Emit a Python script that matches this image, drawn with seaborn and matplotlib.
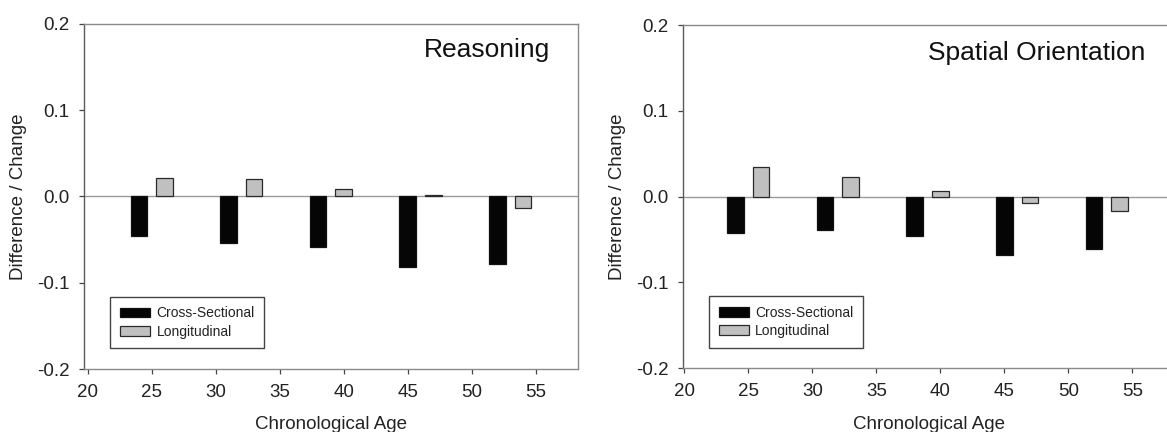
import matplotlib
matplotlib.use("Agg")
import matplotlib.pyplot as plt
from matplotlib.patches import Patch
import seaborn as sns
import pandas as pd

# ---- data ----
cs_age = [24, 31, 38, 45, 52]          # cross-sectional bar positions (age)
long_age = [26, 33, 40, 47, 54]        # longitudinal bar positions (age)
reasoning_cs = [-0.046, -0.054, -0.058, -0.082, -0.078]
reasoning_long = [0.022, 0.020, 0.009, 0.002, -0.013]
spatial_cs = [-0.042, -0.039, -0.046, -0.068, -0.061]
spatial_long = [0.034, 0.023, 0.007, -0.007, -0.017]
panel_titles = ["Reasoning", "Spatial Orientation"]
series_labels = ["Cross-Sectional", "Longitudinal"]
x_ticks = [20, 25, 30, 35, 40, 45, 50, 55]
y_ticks = [-0.2, -0.1, 0.0, 0.1, 0.2]
x_label = "Chronological Age"
y_label = "Difference / Change"

sns.set_theme(style="white")
plt.rcParams["font.family"] = ["Liberation Sans", "DejaVu Sans"]
plt.rcParams["axes.unicode_minus"] = False

W, H = 1167, 432
fig = plt.figure(figsize=(W / 100, H / 100), dpi=100)

# axes geometry in pixels: (left, top, right, bottom)
geoms = [(84.3, 24.0, 577.7, 369.0), (683.3, 25.0, 1174.3, 368.3)]
xlims = [(19.73, 58.28), (19.92, 58.28)]
title_pos = [(0.944, 0.9035), (0.942, 0.898)]

panels = [(reasoning_cs, reasoning_long), (spatial_cs, spatial_long)]
bar_w = 1.3 / 7.0

for i, ((cs, lg), (l, t, r, b)) in enumerate(zip(panels, geoms)):
    ax = fig.add_axes([l / W, (H - b) / H, (r - l) / W, (b - t) / H])
    df_cs = pd.DataFrame({"age": cs_age, "value": cs})
    df_lg = pd.DataFrame({"age": long_age, "value": lg})
    ax.axhline(0, color="#9a9a9a", lw=1.0, zorder=1)
    sns.barplot(data=df_cs, x="age", y="value", native_scale=True, width=bar_w,
                color="#050505", saturation=1, edgecolor="#111111", linewidth=0.9,
                ax=ax, zorder=3)
    sns.barplot(data=df_lg, x="age", y="value", native_scale=True, width=bar_w,
                color="#c0c0c0", saturation=1, edgecolor="#2a2a2a", linewidth=0.9,
                ax=ax, zorder=3)
    ax.set_xlim(*xlims[i])
    ax.set_ylim(-0.2, 0.2)
    ax.set_xticks(x_ticks)
    ax.set_xticklabels([str(v) for v in x_ticks])
    ax.set_yticks(y_ticks)
    ax.set_yticklabels([f"{v:.1f}" for v in y_ticks])
    ax.tick_params(axis="both", direction="out", length=3.6, width=0.9,
                   color="#444444", pad=7.2, labelsize=13.5, labelcolor="#222222",
                   bottom=True, left=True)
    ax.set_xlabel(x_label, fontsize=13.5, color="#222222", labelpad=11)
    ax.set_ylabel(y_label, fontsize=13.5, color="#222222", labelpad=7)
    for side, sp in ax.spines.items():
        sp.set_visible(True)
        sp.set_linewidth(1.0)
        sp.set_color("#5a5a5a" if side == "left" else "#8a8a8a")
    ax.set_facecolor("white")
    ax.text(title_pos[i][0], title_pos[i][1], panel_titles[i], transform=ax.transAxes,
            ha="right", va="baseline", fontsize=19, color="#111111")
    handles = [Patch(facecolor="#050505", edgecolor="#111111", linewidth=0.9),
               Patch(facecolor="#c0c0c0", edgecolor="#2a2a2a", linewidth=0.9)]
    leg = ax.legend(handles, series_labels, loc="lower left",
                    bbox_to_anchor=(0.052, 0.06), borderaxespad=0,
                    fontsize=10, frameon=True, fancybox=False, shadow=False,
                    edgecolor="#444444", facecolor="white", framealpha=1,
                    handlelength=2.2, handleheight=0.7, handletextpad=0.45,
                    borderpad=0.7, labelspacing=0.3)
    leg.get_frame().set_linewidth(1.0)
    for txt in leg.get_texts():
        txt.set_color("#222222")

fig.savefig("out.png", dpi=100, facecolor="white")
